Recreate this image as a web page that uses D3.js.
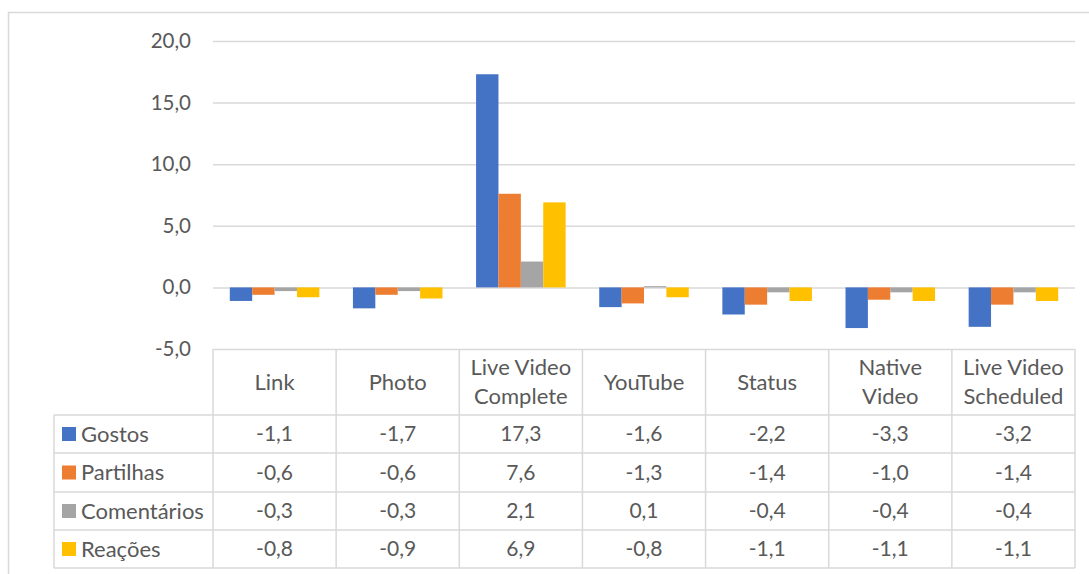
<!DOCTYPE html>
<html>
<head>
<meta charset="utf-8">
<script src="https://cdn.jsdelivr.net/npm/d3@7"></script>
<style>
  html, body { margin: 0; padding: 0; background: #fff; }
  svg { display: block; font-family: Lato, "Open Sans", sans-serif; }
</style>
</head>
<body>
<svg id="chart" width="1089" height="574"></svg>
<script>
// Post types (columns) and their two-line header labels
const categories = ["Link", "Photo", "Live Video Complete", "YouTube", "Status", "Native Video", "Live Video Scheduled"];
const categoryLines = [["Link"], ["Photo"], ["Live Video", "Complete"], ["YouTube"], ["Status"], ["Native", "Video"], ["Live Video", "Scheduled"]];

// Series
const seriesNames = ["Gostos", "Partilhas", "Comentários", "Reações"];
const gostos      = [-1.1, -1.7, 17.3, -1.6, -2.2, -3.3, -3.2];
const partilhas   = [-0.6, -0.6, 7.6, -1.3, -1.4, -1.0, -1.4];
const comentarios = [-0.3, -0.3, 2.1, 0.1, -0.4, -0.4, -0.4];
const reacoes     = [-0.8, -0.9, 6.9, -0.8, -1.1, -1.1, -1.1];
const seriesValues = [gostos, partilhas, comentarios, reacoes];
const seriesColors = ["#4472C4", "#ED7D31", "#A5A5A5", "#FFC000"];

// Value axis ticks
const yTicks = [-5, 0, 5, 10, 15, 20];

const svg = d3.select("#chart");
const plotLeft = 213, plotRight = 1075, plotTop = 41, plotBottom = 349;
const tableLeft = 54;
const headerBottom = 415;
const rowBounds = [415, 453, 492, 530, 568];
const gridColor = "#d9d9d9";
const textColor = "#595959";
const wordSize = "22px";
const numberSize = "21px";
const fmt = v => v.toFixed(1).replace(".", ",");

// Chart area border
svg.append("path")
  .attr("d", `M1089,12.5 H8.5 V574`)
  .attr("fill", "none").attr("stroke", gridColor).attr("stroke-width", 1.5);

const x = d3.scaleBand().domain(categories).range([plotLeft, plotRight]).paddingInner(0).paddingOuter(0);
const y = d3.scaleLinear().domain([-5, 20]).range([plotBottom, plotTop]);

// Horizontal gridlines and value labels
const yAxis = d3.axisLeft(y).tickValues(yTicks).tickFormat(fmt).tickSize(-(plotRight - plotLeft)).tickPadding(22);
const gy = svg.append("g").attr("transform", `translate(${plotLeft},0)`).call(yAxis);
gy.select(".domain").remove();
gy.selectAll(".tick line").attr("stroke", gridColor).attr("stroke-width", 1.5);
gy.selectAll(".tick text").attr("fill", textColor).style("font-size", "20.5px").style("font-family", "Lato, sans-serif");

// Bars: 4 per category with 150% gap width
const bw = x.bandwidth();
const barW = bw / (4 + 1.5);
const groupOffset = (bw - barW * 4) / 2;
const bars = svg.append("g");
seriesValues.forEach((vals, si) => {
  bars.selectAll(null).data(vals).enter().append("rect")
    .attr("x", (d, i) => x(categories[i]) + groupOffset + si * barW)
    .attr("y", d => y(Math.max(0, d)))
    .attr("width", barW)
    .attr("height", d => Math.abs(y(d) - y(0)))
    .attr("fill", seriesColors[si]);
});

// Data table
const table = svg.append("g").attr("fill", "none").attr("stroke", gridColor).attr("stroke-width", 1.5);
categories.forEach((c) => {
  table.append("line").attr("x1", x(c)).attr("x2", x(c)).attr("y1", plotBottom).attr("y2", rowBounds[4]);
});
table.append("line").attr("x1", plotRight).attr("x2", plotRight).attr("y1", plotBottom).attr("y2", rowBounds[4]);
table.append("line").attr("x1", tableLeft).attr("x2", tableLeft).attr("y1", rowBounds[0]).attr("y2", rowBounds[4]);
rowBounds.forEach(rb => {
  table.append("line").attr("x1", tableLeft).attr("x2", plotRight).attr("y1", rb).attr("y2", rb);
});

// Header labels
const header = svg.append("g").attr("fill", textColor).style("font-size", wordSize).attr("text-anchor", "middle");
categoryLines.forEach((lines, i) => {
  const cx = x(categories[i]) + bw / 2;
  const mid = (plotBottom + headerBottom) / 2;
  lines.forEach((ln, j) => {
    const off = (j - (lines.length - 1) / 2) * 28.5;
    header.append("text").attr("x", cx).attr("y", mid + off).attr("dy", "0.35em").text(ln);
  });
});

// Rows: legend key + values
const rows = svg.append("g");
seriesValues.forEach((vals, si) => {
  const cy = (rowBounds[si] + rowBounds[si + 1]) / 2;
  rows.append("rect").attr("x", 62).attr("y", cy - 7).attr("width", 14).attr("height", 14).attr("fill", seriesColors[si]);
  rows.append("text").attr("x", 81).attr("y", cy).attr("dy", "0.35em").attr("fill", textColor)
    .style("font-size", wordSize).text(seriesNames[si]);
  vals.forEach((v, i) => {
    rows.append("text").attr("x", x(categories[i]) + bw / 2).attr("y", cy).attr("dy", "0.35em")
      .attr("text-anchor", "middle").attr("fill", textColor).style("font-size", numberSize).text(fmt(v));
  });
});
</script>
</body>
</html>
